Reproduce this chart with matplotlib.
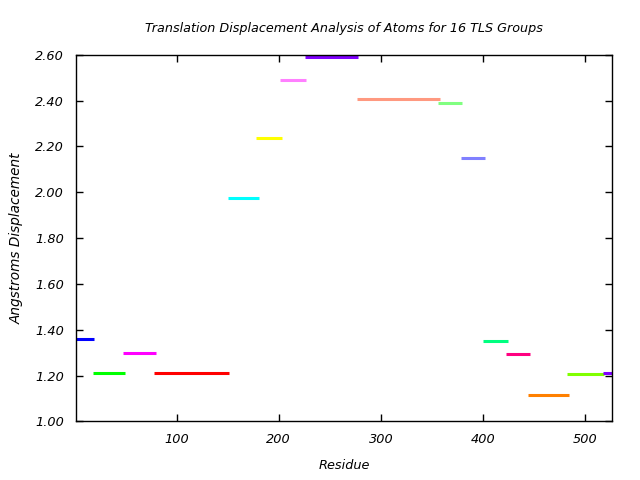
import matplotlib
matplotlib.use('Agg')
from matplotlib import pyplot as plt

# TLS group segments: start residue, end residue, translation displacement
starts = [1, 18, 48, 78, 150, 178, 201, 226, 277, 356, 378, 400, 422, 444, 482, 517]
ends = [19, 49, 80, 151, 181, 203, 227, 278, 358, 379, 402, 424, 446, 484, 518, 530]
values = [1.358, 1.213, 1.297, 1.213, 1.974, 2.236, 2.490, 2.588, 2.405, 2.388,
          2.148, 1.351, 1.295, 1.116, 1.208, 1.212]
colors = ['#0000ff', '#00ff00', '#ff00ff', '#ff0000', '#00ffff', '#ffff00',
          '#ff80ff', '#8000ff', '#ff9980', '#80ff80', '#8080ff', '#00ff80',
          '#ff0080', '#ff8000', '#80ff00', '#8000ff']

xticks = [100, 200, 300, 400, 500]
yticks = [1.0, 1.2, 1.4, 1.6, 1.8, 2.0, 2.2, 2.4, 2.6]

plt.rcParams['font.family'] = ['DejaVu Sans']
plt.rcParams['font.style'] = 'oblique'

fig = plt.figure(figsize=(6.4, 4.8), dpi=100)
ax = fig.add_axes([0.1192, 0.1219, 0.8375, 0.7641])

for s, e, v, c in zip(starts, ends, values, colors):
    ax.plot([s, e], [v, v], color=c, linewidth=2.2, solid_capstyle='butt')

ax.set_xlim(1.8, 526.5)
ax.set_ylim(1.0, 2.6)
ax.set_xticks(xticks)
ax.set_yticks(yticks)
ax.set_yticklabels([f'{y:.2f}' for y in yticks])
ax.tick_params(direction='in', top=True, right=True, length=5, width=1,
               pad=9, labelsize=9.3)
ax.tick_params(axis='x', pad=8)
for sp in ax.spines.values():
    sp.set_linewidth(1)

ax.set_title('Translation Displacement Analysis of Atoms for 16 TLS Groups',
             fontsize=9.2, pad=16)
ax.set_xlabel('Residue', fontsize=9.3, labelpad=10)
ax.set_ylabel('Angstroms Displacement', fontsize=9.8, labelpad=8)

fig.savefig('out.png', dpi=100)
